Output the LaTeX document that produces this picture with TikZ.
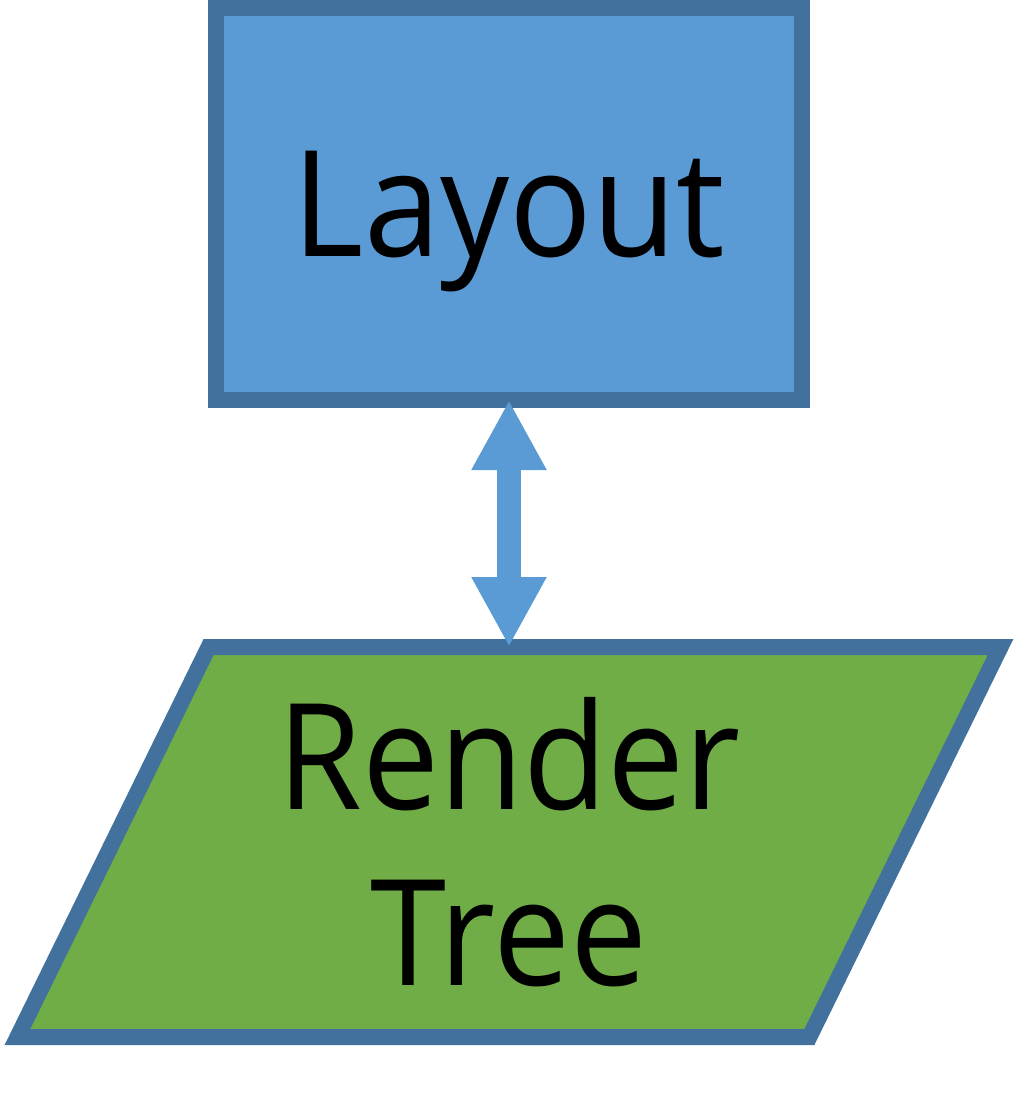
\documentclass[tikz,border=0pt]{standalone}
\usepackage{fontspec}
\setmainfont{Open Sans}[FakeStretch=0.93]
\usetikzlibrary{positioning,shapes.geometric,arrows.meta}

\definecolor{boxblue}{HTML}{5B9BD5}
\definecolor{edgeblue}{HTML}{41719C}
\definecolor{treegreen}{HTML}{70AD47}

\begin{document}
\begin{tikzpicture}[
            stage/.style={draw=edgeblue,fill=boxblue,line width=0.32cm,rectangle,outer sep=0pt,inner sep=0pt,
                minimum width=11.72cm,minimum height=7.84cm,text depth=0pt,font=\fontsize{84}{100}\selectfont},
            data/.style={draw=edgeblue,fill=treegreen,line width=0.32cm,trapezium,outer sep=0pt,inner sep=0pt,
                trapezium left angle=63,trapezium right angle=117,trapezium stretches=true,
                minimum width=19.78cm,minimum height=7.8cm,align=center,font=\fontsize{84}{100}\selectfont},
            link/.style={draw=boxblue,line width=0.48cm,{Triangle[width=1.4cm,length=1.4cm]}-{Triangle[width=1.4cm,length=1.4cm]}}
        ]

        \tikzset{
            node distance=4.94cm,
        }

        \useasboundingbox (0,0) rectangle (20.48,-22.2);

        \node[stage] (layout) at (10.18,-4.08) {Layout};
        \node[data,below=of layout] (render) {Render\\Tree};

        \draw[link] (layout.south) -- (layout.south |- render.north);

\end{tikzpicture}
\end{document}
